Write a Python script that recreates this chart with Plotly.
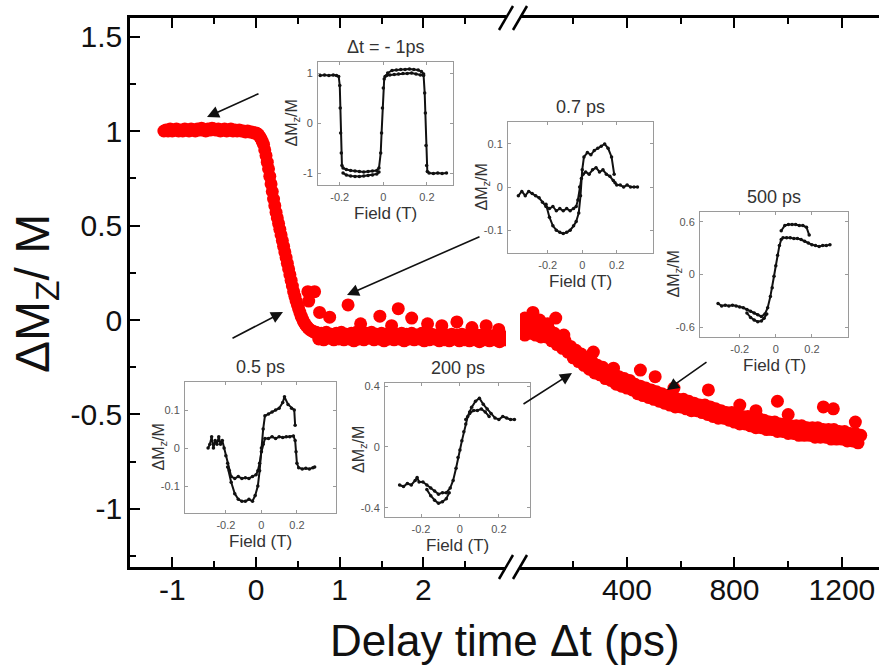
import plotly.graph_objects as go

# ---------------- data ----------------
# main curve, short-delay segment (ps): plateau, fast drop, flat band, upward spikes
t_plateau = [-1.100,-1.075,-1.050,-1.025,-1.000,-0.975,-0.950,-0.925,-0.900,-0.875,-0.850,-0.825,-0.800,-0.775,-0.750,
             -0.725,-0.700,-0.675,-0.650,-0.625,-0.600,-0.575,-0.550,-0.525,-0.500,-0.475,-0.450,-0.425,-0.400,-0.375,
             -0.350,-0.325,-0.300,-0.275,-0.250,-0.225,-0.200,-0.175,-0.150,-0.125,-0.100,-0.075,-0.050,-0.025,0.000]
m_plateau = [1.000,1.005,1.000,1.010,1.000,1.005,1.010,1.000,1.005,1.000,1.010,1.005,1.000,1.010,1.005,
             1.000,1.010,1.005,1.015,1.005,1.000,1.010,1.005,1.015,1.010,1.005,1.010,1.000,1.005,1.010,
             1.000,1.005,1.010,1.000,1.005,1.000,1.005,1.000,1.000,0.995,1.000,0.995,0.995,0.990,0.990]
t_drop = [0.015,0.030,0.045,0.060,0.075,0.090,0.105,0.120,0.135,0.150,0.165,0.180,0.195,0.210,0.225,0.240,0.255,
          0.270,0.285,0.300,0.315,0.330,0.345,0.360,0.375,0.390,0.405,0.420,0.435,0.450,0.465,0.480,0.495,0.510,
          0.525,0.540,0.555,0.570,0.585,0.600,0.620,0.640,0.660,0.680,0.700]
m_drop = [0.985,0.980,0.970,0.960,0.945,0.930,0.900,0.870,0.835,0.800,0.760,0.720,0.680,0.640,0.605,0.570,0.540,
          0.510,0.480,0.450,0.420,0.390,0.360,0.330,0.300,0.270,0.240,0.210,0.180,0.150,0.125,0.100,0.080,0.060,
          0.040,0.020,0.005,-0.010,-0.020,-0.030,-0.040,-0.050,-0.055,-0.060,-0.065]
t_flat = [0.72,0.75,0.78,0.81,0.84,0.87,0.90,0.93,0.96,0.99,1.02,1.05,1.08,1.11,1.14,1.17,1.20,1.23,1.26,1.29,
          1.32,1.35,1.38,1.41,1.44,1.47,1.50,1.53,1.56,1.59,1.62,1.65,1.68,1.71,1.74,1.77,1.80,1.83,1.86,1.89,
          1.92,1.95,1.98,2.01,2.04,2.07,2.10,2.13,2.16,2.19,2.22,2.25,2.28,2.31,2.34,2.37,2.40,2.43,2.46,2.49,
          2.52,2.55,2.58,2.61,2.64,2.67,2.70,2.73,2.76,2.79,2.82,2.85,2.88,2.91,2.94,2.97]
m_flat = [-0.065,-0.100,-0.070,-0.105,-0.065,-0.095,-0.075,-0.105,-0.070,-0.100,-0.065,-0.105,-0.075,-0.100,-0.070,
          -0.110,-0.065,-0.100,-0.075,-0.105,-0.070,-0.095,-0.065,-0.105,-0.075,-0.100,-0.070,-0.110,-0.075,-0.100,
          -0.065,-0.105,-0.075,-0.100,-0.070,-0.110,-0.075,-0.100,-0.070,-0.105,-0.080,-0.100,-0.070,-0.110,-0.075,
          -0.105,-0.075,-0.100,-0.080,-0.110,-0.070,-0.105,-0.080,-0.110,-0.075,-0.100,-0.080,-0.110,-0.075,-0.105,
          -0.080,-0.110,-0.075,-0.105,-0.080,-0.115,-0.080,-0.105,-0.075,-0.110,-0.085,-0.105,-0.080,-0.115,-0.085,-0.105]
t_spike_left = [0.62,0.70,0.63,0.76,0.88,1.10,1.25,1.48,1.62,1.70,1.86,2.05,2.22,2.40,2.58,2.75,2.90]
m_spike_left = [0.15,0.15,0.10,0.04,0.015,0.08,-0.02,0.02,-0.03,0.06,0.01,-0.02,-0.03,-0.01,-0.04,-0.03,-0.05]

# main curve, long-delay segment (ps)
t_long = [10,20,30,40,50,60,70,80,90,100,110,120,130,140,150,160,170,180,190,200,
          210,220,230,240,250,260,270,280,290,300,310,320,330,340,350,360,370,380,390,400,
          410,420,430,440,450,460,470,480,490,500,510,520,530,540,550,560,570,580,590,600,
          610,620,630,640,650,660,670,680,690,700,710,720,730,740,750,760,770,780,790,800,
          810,820,830,840,850,860,870,880,890,900,910,920,930,940,950,960,970,980,990,1000,
          1010,1020,1030,1040,1050,1060,1070,1080,1090,1100,1110,1120,1130,1140,1150,1160,1170,1180,1190,1200,
          1210,1220,1230,1240,1250,1260,1270]
m_long = [-0.03,-0.08,-0.04,-0.07,-0.02,-0.08,-0.03,-0.09,-0.04,-0.09,-0.05,-0.11,-0.07,-0.13,-0.09,-0.15,-0.11,-0.17,-0.14,-0.20,
          -0.16,-0.22,-0.18,-0.24,-0.20,-0.26,-0.22,-0.28,-0.24,-0.29,-0.25,-0.31,-0.27,-0.32,-0.28,-0.34,-0.30,-0.35,-0.31,-0.36,
          -0.32,-0.37,-0.34,-0.39,-0.35,-0.40,-0.36,-0.41,-0.37,-0.42,-0.38,-0.43,-0.39,-0.44,-0.40,-0.45,-0.41,-0.46,-0.42,-0.46,
          -0.42,-0.47,-0.43,-0.48,-0.44,-0.48,-0.45,-0.49,-0.45,-0.50,-0.46,-0.51,-0.47,-0.52,-0.48,-0.52,-0.49,-0.53,-0.49,-0.54,
          -0.50,-0.55,-0.51,-0.55,-0.51,-0.56,-0.52,-0.57,-0.52,-0.57,-0.53,-0.58,-0.54,-0.58,-0.54,-0.59,-0.55,-0.59,-0.55,-0.60,
          -0.56,-0.60,-0.56,-0.61,-0.56,-0.61,-0.57,-0.61,-0.57,-0.62,-0.57,-0.62,-0.58,-0.62,-0.58,-0.63,-0.58,-0.63,-0.59,-0.63,
          -0.59,-0.64,-0.60,-0.64,-0.60,-0.65,-0.61]
t_spike_long = [20,50,75,105,135,165,275,350,450,505,575,703,820,960,1131,1168,1250,1000,880]
m_spike_long = [0.01,0.04,0.00,-0.02,0.01,-0.08,-0.17,-0.255,-0.265,-0.30,-0.36,-0.37,-0.45,-0.43,-0.46,-0.47,-0.54,-0.50,-0.48]

x_left_ticks = [-1, 0, 1, 2]
x_left_minor = [-0.5, 0.5, 1.5, 2.5]
x_right_ticks = [400, 800, 1200]
x_right_minor = [200, 600, 1000]
y_ticks = [-1, -0.5, 0, 0.5, 1, 1.5]
y_tick_text = ["-1", "-0.5", "0", "0.5", "1", "1.5"]
y_minor = [-1.25, -0.75, -0.25, 0.25, 0.75, 1.25]

# inset loops: field (T) and dM/M, two branches each
A_h1 = [-0.29,-0.27,-0.25,-0.23,-0.215,-0.205,-0.2,-0.198,-0.196,-0.193,-0.19,-0.185,-0.17,-0.15,-0.13,-0.11,-0.09,-0.07,-0.05,-0.03,
        -0.02,-0.012,-0.008,-0.004,0.0,0.004,0.008,0.015,0.03,0.05,0.07,0.09,0.11,0.13,0.15,0.17,0.185,0.19,0.193,0.196,0.199,0.202,
        0.21,0.23,0.25,0.27,0.29]
A_m1 = [0.95,0.96,0.95,0.96,0.95,0.93,0.75,0.3,-0.2,-0.6,-0.85,-0.9,-0.93,-0.95,-0.96,-0.97,-0.98,-0.97,-0.96,-0.95,
        -0.9,-0.6,-0.2,0.3,0.7,0.88,0.93,0.95,0.96,0.97,0.98,0.99,0.99,1.0,0.98,0.96,0.95,0.6,0.2,-0.45,-0.85,-0.97,
        -1.0,-1.01,-1.0,-1.01,-1.0]
A_h2 = [-0.185,-0.17,-0.15,-0.13,-0.11,-0.09,-0.07,-0.05,-0.03,-0.02,None,0.02,0.04,0.06,0.08,0.1,0.12,0.14,0.16,0.175,0.185]
A_m2 = [-1.0,-1.04,-1.06,-1.07,-1.07,-1.06,-1.05,-1.04,-1.02,-0.98,None,1.0,1.05,1.06,1.07,1.07,1.08,1.07,1.06,1.03,0.98]

B_h1 = [-0.37,-0.35,-0.33,-0.31,-0.29,-0.27,-0.25,-0.23,-0.21,-0.19,-0.17,-0.15,-0.13,-0.11,-0.09,-0.07,-0.05,-0.035,-0.025,
        -0.015,-0.005,0.005,0.02,0.04,0.06,0.08,0.1,0.12,0.14,0.16,0.18,0.19,0.2,0.22,0.24,0.26,0.28,0.3,0.32]
B_m1 = [-0.02,-0.01,-0.02,-0.01,-0.015,-0.02,-0.025,-0.035,-0.045,-0.05,-0.045,-0.055,-0.05,-0.055,-0.05,-0.055,-0.05,-0.045,-0.03,
        0.0,0.02,0.03,0.035,0.03,0.04,0.045,0.035,0.04,0.03,0.025,0.015,0.01,0.005,0.005,0.0,0.005,0.0,0.0,0.0]
B_h2 = [-0.21,-0.19,-0.17,-0.15,-0.13,-0.11,-0.09,-0.07,-0.05,-0.035,-0.02,-0.01,0.0,0.01,0.03,0.05,0.07,0.09,0.11,0.13,0.15,0.17,0.185]
B_m2 = [-0.04,-0.07,-0.09,-0.1,-0.105,-0.108,-0.105,-0.1,-0.09,-0.08,-0.06,-0.02,0.04,0.07,0.08,0.075,0.085,0.09,0.095,0.1,0.09,0.07,0.03]

C_h1 = [-0.32,-0.3,-0.28,-0.26,-0.24,-0.22,-0.2,-0.18,-0.16,-0.14,-0.12,-0.1,-0.08,-0.06,-0.045,-0.03,-0.02,-0.01,0.0,0.01,0.02,
        0.03,0.04,0.06,0.08,0.1,0.12,0.14,0.16,0.18,0.2,0.22,0.24,0.26,0.28,0.3]
C_m1 = [-0.33,-0.36,-0.35,-0.36,-0.35,-0.36,-0.37,-0.38,-0.4,-0.42,-0.44,-0.46,-0.48,-0.45,-0.38,-0.25,-0.15,-0.02,0.1,0.22,0.33,
        0.4,0.42,0.42,0.42,0.41,0.41,0.4,0.38,0.36,0.34,0.33,0.32,0.33,0.33,0.34]
C_h2 = [-0.16,-0.14,-0.12,-0.1,-0.08,-0.065,-0.05,None,0.03,0.05,0.07,0.09,0.11,0.13,0.15,0.17,0.185]
C_m2 = [-0.44,-0.49,-0.52,-0.54,-0.53,-0.5,-0.45,None,0.5,0.56,0.57,0.57,0.57,0.56,0.56,0.54,0.45]

D_h1 = [-0.30,-0.29,-0.28,-0.27,-0.26,-0.25,-0.24,-0.23,-0.22,-0.21,-0.2,-0.19,-0.18,-0.17,-0.15,-0.13,-0.11,-0.09,-0.07,-0.05,
        -0.03,-0.02,-0.01,0.0,0.01,0.02,0.04,0.06,0.08,0.1,0.12,0.14,0.16,0.18,0.19,0.195,0.2,0.21,0.23,0.25,0.27,0.29,0.3]
D_m1 = [0.0,0.01,0.03,0.0,0.02,0.01,0.03,0.01,0.02,0.0,-0.02,-0.04,-0.06,-0.075,-0.08,-0.075,-0.08,-0.078,-0.08,-0.075,
        -0.07,-0.06,-0.04,-0.01,0.01,0.025,0.025,0.03,0.025,0.03,0.028,0.03,0.03,0.032,0.02,-0.01,-0.04,-0.052,-0.055,-0.053,-0.055,-0.052,-0.05]
D_h2 = [-0.19,-0.17,-0.15,-0.13,-0.11,-0.09,-0.07,-0.05,-0.035,-0.02,-0.01,0.0,0.01,0.02,0.04,0.06,0.08,0.1,0.12,0.13,0.15,0.17,0.185,0.19]
D_m2 = [-0.05,-0.09,-0.12,-0.135,-0.14,-0.14,-0.135,-0.14,-0.125,-0.1,-0.06,0.0,0.05,0.085,0.09,0.095,0.1,0.105,0.12,0.135,0.115,0.105,0.1,0.06]

E_h1 = [-0.31,-0.29,-0.27,-0.25,-0.23,-0.22,-0.21,-0.19,-0.17,-0.15,-0.13,-0.11,-0.09,-0.07,-0.05,-0.035,-0.02,-0.01,0.0,0.01,
        0.02,0.03,0.04,0.05,0.06,0.08,0.1,0.12,0.14,0.16,0.18,0.2,0.22,0.24,0.26,0.28]
E_m1 = [-0.25,-0.26,-0.24,-0.25,-0.22,-0.2,-0.23,-0.23,-0.25,-0.27,-0.29,-0.31,-0.3,-0.3,-0.27,-0.22,-0.14,-0.07,-0.02,0.04,
        0.1,0.15,0.2,0.23,0.26,0.3,0.32,0.28,0.25,0.22,0.19,0.18,0.2,0.19,0.18,0.18]
E_h2 = [-0.17,-0.15,-0.13,-0.11,-0.09,-0.07,-0.055,None,0.03,0.05,0.07,0.09,0.11,0.13,0.15]
E_m2 = [-0.28,-0.32,-0.35,-0.37,-0.36,-0.34,-0.3,None,0.18,0.22,0.24,0.24,0.25,0.23,0.2]

inset_titles = ["\u0394t = - 1ps", "0.7 ps", "500 ps", "0.5 ps", "200 ps"]
inset_yticks = [[-1, 0, 1], [-0.1, 0, 0.1], [-0.6, 0, 0.6], [-0.1, 0, 0.1], [-0.4, 0, 0.4]]
inset_xticks = [-0.2, 0, 0.2]

# ---------------- geometry (pixels) ----------------
W, H = 887, 669
L, R, T, B = 130, 879, 18, 567
def px(x): return (x - L) / (R - L)
def py(y): return (B - y) / (B - T)

FONT = "Liberation Sans, Arial, sans-serif"
fig = go.Figure()

mk = dict(color="#ff0000", size=13, line=dict(width=0))
for xs, ys in ((t_plateau, m_plateau), (t_drop, m_drop), (t_flat, m_flat), (t_spike_left, m_spike_left)):
    fig.add_trace(go.Scatter(x=xs, y=ys, mode="markers", marker=mk, xaxis="x", yaxis="y", showlegend=False))
for xs, ys in ((t_long, m_long), (t_spike_long, m_spike_long)):
    fig.add_trace(go.Scatter(x=xs, y=ys, mode="markers", marker=mk, xaxis="x2", yaxis="y", showlegend=False))

main_ax = dict(showgrid=False, zeroline=False, showline=True, linecolor="black", linewidth=2.5,
               ticks="inside", ticklen=10, tickwidth=2, tickcolor="black",
               tickfont=dict(family=FONT, size=30, color="#111"))
minor_ax = dict(ticks="inside", ticklen=6, tickwidth=2, tickcolor="black")
YR = [-1.307, 1.598]
layout = dict(
    width=W, height=H, margin=dict(l=L, r=W - R, t=T, b=H - B),
    paper_bgcolor="white", plot_bgcolor="rgba(0,0,0,0)", showlegend=False,
    xaxis=dict(main_ax, domain=[0, px(506)], range=[-1.505, 2.987], anchor="y", mirror="ticks",
               tickvals=x_left_ticks, ticktext=[str(v) for v in x_left_ticks],
               minor=dict(minor_ax, tickvals=x_left_minor), ticklabelstandoff=-6),
    xaxis2=dict(main_ax, domain=[px(520), 1], range=[2, 1338], anchor="y", mirror="ticks",
                tickvals=x_right_ticks, ticktext=[str(v) for v in x_right_ticks],
                minor=dict(minor_ax, tickvals=x_right_minor), ticklabelstandoff=-6),
    yaxis=dict(main_ax, domain=[0, 1], range=YR, anchor="x", tickvals=y_ticks, ticktext=y_tick_text,
               minor=dict(minor_ax, tickvals=y_minor), ticklabelstandoff=-1),
    yaxis2=dict(main_ax, domain=[0, 1], range=YR, anchor="x2", overlaying="y", side="right",
                tickvals=y_ticks, showticklabels=False, minor=dict(minor_ax, tickvals=y_minor)),
)

# insets: pixel frames (left, right, top, bottom) and ranges
frames = [(318, 453, 62, 185), (508, 653, 122, 253), (700, 848, 212, 337), (185, 336, 382, 513), (385, 530, 383, 517)]
xr = [[-0.30, 0.32], [-0.43, 0.41], [-0.42, 0.40], [-0.43, 0.42], [-0.385, 0.36]]
yr = [[-1.24, 1.22], [-0.153, 0.151], [-0.714, 0.714], [-0.171, 0.174], [-0.46, 0.42]]
loops = [(A_h1, A_m1, A_h2, A_m2), (B_h1, B_m1, B_h2, B_m2), (C_h1, C_m1, C_h2, C_m2),
         (D_h1, D_m1, D_h2, D_m2), (E_h1, E_m1, E_h2, E_m2)]

ann = []
for i, ((l, r, t, b), loop) in enumerate(zip(frames, loops)):
    n = i + 3
    xa, ya = f"x{n}", f"y{n}"
    for hh, mm in ((loop[0], loop[1]), (loop[2], loop[3])):
        fig.add_trace(go.Scatter(x=hh, y=mm, mode="lines+markers", xaxis=xa, yaxis=ya, showlegend=False,
                                 line=dict(color="#111", width=2), marker=dict(color="#111", size=3.5)))
    iax = dict(showgrid=False, zeroline=False, showline=True, mirror="ticks", linecolor="#9a9a9a", linewidth=1,
               ticks="inside", ticklen=3, tickcolor="#9a9a9a", tickfont=dict(family=FONT, size=11, color="#555"),
               ticklabelstandoff=2)
    layout[f"xaxis{n}"] = dict(iax, domain=[px(l), px(r)], range=xr[i], anchor=ya,
                               tickvals=inset_xticks, ticktext=["-0.2", "0", "0.2"])
    layout[f"yaxis{n}"] = dict(iax, domain=[py(b), py(t)], range=yr[i], anchor=xa,
                               tickvals=inset_yticks[i], ticktext=[f"{v:g}" for v in inset_yticks[i]])
    cx = (l + r) / 2
    ann.append(dict(text=inset_titles[i], x=px(cx), y=py(t - 3), xref="paper", yref="paper",
                    xanchor="center", yanchor="bottom", showarrow=False, font=dict(family=FONT, size=18, color="#333")))
    ann.append(dict(text="Field (T)", x=px(cx), y=py(b + 17), xref="paper", yref="paper",
                    xanchor="center", yanchor="top", showarrow=False, font=dict(family=FONT, size=17, color="#333")))
    ann.append(dict(text="\u0394M<sub>z</sub>/M", x=px(l - 26), y=py((t + b) / 2), xref="paper", yref="paper",
                    xanchor="center", yanchor="middle", textangle=-90, showarrow=False,
                    font=dict(family=FONT, size=16, color="#333")))

# main axis titles
ann.append(dict(text="Delay time \u0394t (ps)", x=px((L + R) / 2), y=py(640), xref="paper", yref="paper",
                xanchor="center", yanchor="middle", showarrow=False, font=dict(family=FONT, size=44, color="#111")))
ann.append(dict(text="\u0394M<sub>Z</sub>/ M", x=px(36), y=py(294), xref="paper", yref="paper",
                xanchor="center", yanchor="middle", textangle=-90, showarrow=False,
                font=dict(family=FONT, size=48, color="#111")))

# arrows (head pixel, tail pixel)
arrows = [((207, 117), (260, 93)), ((283, 312), (231, 339)), ((347, 295), (481, 236)),
          ((572, 373), (522, 405)), ((667, 390), (708, 361))]
for (hx, hy), (tx, ty) in arrows:
    ann.append(dict(x=px(hx), y=py(hy), xref="paper", yref="paper", ax=tx - hx, ay=ty - hy, text="",
                    showarrow=True, arrowhead=2, arrowsize=1.5, arrowwidth=1.6, arrowcolor="#111"))
layout["annotations"] = ann

# axis-break marks
shapes = []
for yb in (T, B):
    for x0 in (499, 513):
        shapes.append(dict(type="line", xref="paper", yref="paper", x0=px(x0), y0=py(yb + 12),
                           x1=px(x0 + 14), y1=py(yb - 12), line=dict(color="black", width=2.5)))
layout["shapes"] = shapes

fig.update_layout(layout)
fig.write_html("out.html", config={"displayModeBar": False},
               post_script="document.body.style.margin='0px';document.body.style.padding='0px';")
